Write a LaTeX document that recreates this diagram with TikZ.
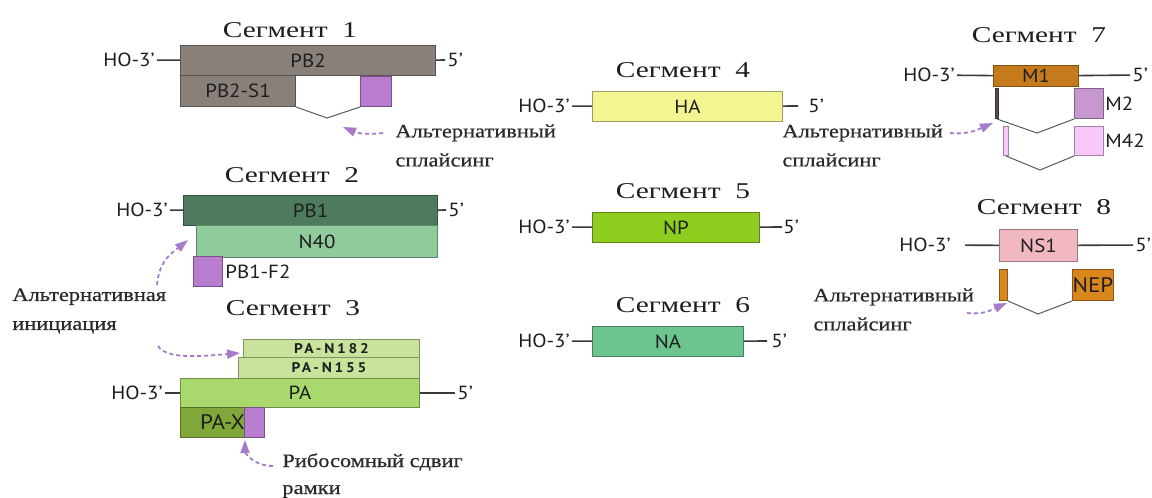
\documentclass[tikz,border=0pt]{standalone}
\usepackage{fontspec}
\usepackage{tikz}
\usetikzlibrary{arrows.meta}
\setmainfont{Liberation Serif}
\newfontfamily\labfont[FakeStretch=1.1]{PT Sans}
\newfontfamily\tinyfont[FakeStretch=1.1,LetterSpace=20]{PT Sans}
\newfontfamily\segfont[FakeStretch=1.3,WordSpace=2]{Liberation Serif}
\newfontfamily\notefont[FakeStretch=1.18,FakeBold=0.6]{Liberation Serif}
\definecolor{bonec}{HTML}{3A3A3A}
\definecolor{splc}{HTML}{5A5A5A}
\definecolor{arr}{HTML}{A57CC9}
\definecolor{notec}{HTML}{2A2A2A}
\definecolor{labc}{HTML}{1E1E1E}
\definecolor{pbtwo}{HTML}{8A807A}
\definecolor{purp}{HTML}{B87DCF}
\definecolor{pbone}{HTML}{4E7B5E}
\definecolor{nforty}{HTML}{90CB9C}
\definecolor{pa}{HTML}{A9D96C}
\definecolor{pan}{HTML}{C8E39C}
\definecolor{pax}{HTML}{7FA73A}
\definecolor{ha}{HTML}{F3F592}
\definecolor{np}{HTML}{8FCD1F}
\definecolor{na}{HTML}{6CC48E}
\definecolor{mone}{HTML}{C57A1B}
\definecolor{mtwo}{HTML}{C797D0}
\definecolor{mff}{HTML}{F8C8F8}
\definecolor{bardk}{HTML}{5A4A55}
\definecolor{nsone}{HTML}{F2B8C2}
\definecolor{nep}{HTML}{D9871D}
\tikzset{
  gene/.style={draw=#1!65!black, fill=#1, line width=0.5pt, inner sep=0pt, anchor=north west,
    text=labc, font=\labfont\fontsize{9.5}{11}\selectfont},
  sz/.style 2 args={minimum width=#1*0.5pt, minimum height=#2*0.5pt},
  small/.style={font=\tinyfont\bfseries\fontsize{7}{8}\selectfont},
  bone/.style={draw=bonec, line width=0.8pt},
  splice/.style={draw=splc, line width=0.5pt},
  alt/.style={draw=arr, line width=0.9pt, dash pattern=on 2pt off 1.5pt,
    -{Triangle[length=6.5pt,width=4.5pt]}},
  seg/.style={font=\segfont\fontsize{11.3}{13}\selectfont, inner sep=0pt, text=labc},
  endlab/.style={font=\labfont\fontsize{9.5}{11}\selectfont, inner sep=1pt, text=labc},
  note/.style={font=\notefont\fontsize{9.5}{14.5}\selectfont, align=left, anchor=north west,
    inner sep=0pt, text=notec},
}
\begin{document}
\begin{tikzpicture}[x=0.5pt, y=-0.5pt]
  \fill[white] (0,0) rectangle (1152,498);
  \useasboundingbox (0,0) rectangle (1152,498);

  % segment 1
  \node[seg] (t1) at (290,30) {Сегмент 1};
  \node[gene=pbtwo, sz={255}{30}] (pb2) at (180,45) {PB2};
  \node[gene=pbtwo, sz={115}{31}] (pb2s) at (180,75) {PB2-S1};
  \node[gene=purp, sz={31}{30}] (pb2p) at (360,76) {};
  \node[endlab, anchor=east] (h1) at (157,60) {HO-3’};
  \node[endlab, anchor=west] (f1) at (445,60) {5’};
  \draw[bone] (h1) -- (pb2) (pb2) -- (f1);
  \coordinate (v1) at (327,118);
  \draw[splice] (pb2s.south east) -- (v1) -- (pb2p.south west);
  \node[note] (n1) at (395,124) {Альтернативный\\сплайсинг};
  \coordinate (a1s) at (383,133);
  \coordinate (a1e) at (343,127);
  \draw[alt] (a1s) .. controls +(-18,2) and +(14,6) .. (a1e);

  % segment 2
  \node[seg] (t2) at (292,175) {Сегмент 2};
  \node[gene=pbone, sz={254}{30}] (pb1) at (183,195) {PB1};
  \node[gene=nforty, sz={241}{32}] (n40) at (196,225) {N40};
  \node[gene=purp, sz={29}{30}] (pbf) at (193,256) {};
  \node[endlab, anchor=west] (pbfl) at (pbf.east) {PB1-F2};
  \node[endlab, anchor=east] (h2) at (170,210) {HO-3’};
  \node[endlab, anchor=west] (f2) at (446,210) {5’};
  \draw[bone] (h2) -- (pb1) (pb1) -- (f2);
  \node[note] (n2) at (12,288) {Альтернативная\\инициация};
  \coordinate (a2s) at (157,285);
  \coordinate (a2e) at (188,240);
  \draw[alt] (a2s) .. controls +(2,-25) and +(-15,12) .. (a2e);

  % segment 3
  \node[seg] (t3) at (293,308) {Сегмент 3};
  \node[gene=pan, sz={176}{18}, small] (n182) at (243,339) {PA-N182};
  \node[gene=pan, sz={181}{21}, small] (n155) at (238,357) {PA-N155};
  \node[gene=pa, sz={239}{29}] (pa) at (180,378) {PA};
  \node[gene=pax, sz={84}{30}] (pxb) at (180,407) {};
  \node[gene=purp, sz={20}{30}] (pxp) at (244,407) {};
  \node[endlab, inner sep=0pt, font=\labfont\fontsize{10.5}{12}\selectfont] (pxl) at (pxb.center) {PA-X};
  \node[endlab, anchor=east] (h3) at (165,393) {HO-3’};
  \node[endlab, anchor=west] (f3) at (455,393) {5’};
  \draw[bone] (h3) -- (pa) (pa) -- (f3);
  \coordinate (a3s) at (158,346);
  \coordinate (a3e) at (240,353);
  \draw[alt] (a3s) .. controls +(8,14) and +(-35,3) .. (a3e);
  \node[note, font=\notefont\fontsize{9.5}{13.5}\selectfont] (n3) at (282,453) {Рибосомный сдвиг\\рамки};
  \coordinate (a4s) at (273,466);
  \coordinate (a4e) at (245,440);
  \draw[alt] (a4s) .. controls +(-20,0) and +(0,12) .. (a4e);

  % segments 4-6
  \foreach \k/\g/\c/\y/\w/\e/\f in {4/HA/ha/91/190/798/806,5/NP/np/212/167/782/781,6/NA/na/326/151/767/769} {
    \node[seg] (t\k) at (683,\y-21) {Сегмент \k};
    \node[gene=\c, sz={\w}{30}] (b\k) at (592,\y) {\g};
    \node[endlab, anchor=east] (h\k) at (572,\y+15) {HO-3’};
    \coordinate (e\k) at (\e,\y+15);
    \node[endlab, anchor=west] (f\k) at (\f,\y+15) {5’};
    \draw[bone] (h\k) -- (b\k) (b\k) -- (e\k);
  }

  % segment 7
  \node[seg] (t7) at (1039,35) {Сегмент 7};
  \node[gene=mone, sz={85}{21}] (m1) at (993,65) {M1};
  \node[endlab, anchor=east] (h7) at (957,75) {HO-3’};
  \node[endlab, anchor=west] (f7) at (1130,75) {5’};
  \draw[bone] (h7) -- (m1) (m1) -- (f7);
  \node[gene=mtwo, sz={29}{30}] (m2) at (1074,88) {};
  \node[endlab, anchor=west, inner sep=0.5pt] (m2l) at (m2.east) {M2};
  \node[gene=mff, sz={29}{29}] (m42) at (1074,126) {};
  \node[endlab, anchor=west, inner sep=0.5pt] (m42l) at (m42.east) {M42};
  \node[gene=bardk, sz={3}{30}] (b7a) at (995,88) {};
  \node[gene=mff, sz={5}{29}] (b7b) at (1003,126) {};
  \coordinate (v7a) at (1037,133);
  \coordinate (v7b) at (1040,170);
  \draw[splice] (b7a.south) -- (v7a) -- (m2.south west);
  \draw[splice] (b7b.south) -- (v7b) -- (m42.south west);
  \node[note] (n7) at (782,124) {Альтернативный\\сплайсинг};
  \coordinate (a7s) at (950,133);
  \coordinate (a7e) at (993,123);
  \draw[alt] (a7s) .. controls +(18,2) and +(-14,6) .. (a7e);

  % segment 8
  \node[seg] (t8) at (1044,207) {Сегмент 8};
  \node[gene=nsone, sz={78}{32}] (ns1) at (999,229) {NS1};
  \node[endlab, anchor=east] (h8) at (953,245) {HO-3’};
  \node[endlab, anchor=west] (f8) at (1133,245) {5’};
  \draw[bone, shorten <=6pt] (h8) -- (ns1);
  \draw[bone] (ns1) -- (f8);
  \node[gene=nep, sz={8}{31}] (b8) at (999,269) {};
  \node[gene=nep, sz={38}{31}, font=\labfont\fontsize{10.5}{12}\selectfont] (nep) at (1072,269) {NEP};
  \coordinate (v8) at (1038,314);
  \draw[splice] (b8.south east) -- (v8) -- (nep.south west);
  \node[note] (n8) at (813,288) {Альтернативный\\сплайсинг};
  \coordinate (a8s) at (967,313);
  \coordinate (a8e) at (1007,303);
  \draw[alt] (a8s) .. controls +(18,2) and +(-14,6) .. (a8e);
\end{tikzpicture}
\end{document}
